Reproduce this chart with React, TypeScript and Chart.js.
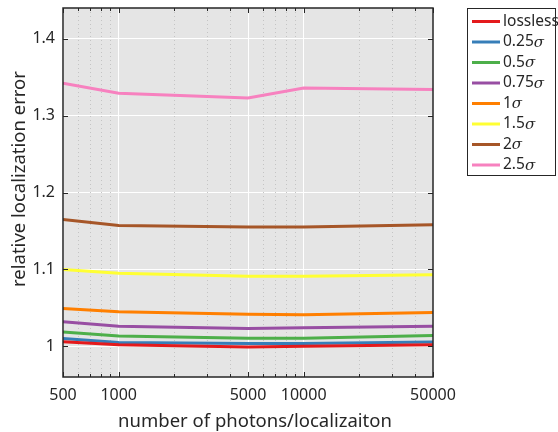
import React, { useEffect, useRef } from 'react';
import { Chart, registerables } from 'chart.js';

Chart.register(...registerables);

// photon counts per localization (x) and tick positions
const PHOTONS = [500, 1000, 5000, 10000, 50000];
const X_TICKS = [500, 1000, 5000, 10000, 50000];
const X_MINOR = [600, 700, 800, 900, 2000, 3000, 4000, 6000, 7000, 8000, 9000, 20000, 30000, 40000];
const Y_TICKS = [1, 1.1, 1.2, 1.3, 1.4];

// relative localization error per compression level
const LOSSLESS = [1.006, 1.002, 0.999, 1.0, 1.002];
const SIGMA_025 = [1.01, 1.005, 1.0035, 1.0035, 1.0056];
const SIGMA_05 = [1.0186, 1.0134, 1.0104, 1.0104, 1.014];
const SIGMA_075 = [1.032, 1.026, 1.023, 1.024, 1.026];
const SIGMA_1 = [1.049, 1.045, 1.0415, 1.041, 1.044];
const SIGMA_15 = [1.1, 1.095, 1.091, 1.091, 1.093];
const SIGMA_2 = [1.165, 1.157, 1.155, 1.155, 1.158];
const SIGMA_25 = [1.342, 1.329, 1.323, 1.336, 1.334];

const SERIES_LABELS = ['lossless', '0.25σ', '0.5σ', '0.75σ', '1σ', '1.5σ', '2σ', '2.5σ'];
const SERIES_VALUES = [LOSSLESS, SIGMA_025, SIGMA_05, SIGMA_075, SIGMA_1, SIGMA_15, SIGMA_2, SIGMA_25];
const SERIES_COLORS = ['#e41a1c', '#377eb8', '#4daf4a', '#984ea3', '#ff7f00', '#ffff33', '#a65628', '#f781bf'];

const X_TITLE = 'number of photons/localizaiton';
const Y_TITLE = 'relative localization error';

const FONT = "'Noto Sans', 'Open Sans', sans-serif";
const INK = '#262626';

const framePlugin = {
  id: 'frame',
  beforeDraw(chart: any) {
    const { ctx, chartArea: a } = chart;
    ctx.save();
    ctx.fillStyle = '#e5e5e5';
    ctx.fillRect(a.left, a.top, a.right - a.left, a.bottom - a.top);
    ctx.restore();
  },
  beforeDatasetsDraw(chart: any) {
    const { ctx, chartArea: a, scales } = chart;
    const x = scales.x;
    ctx.save();
    ctx.strokeStyle = '#c4c4c4';
    ctx.lineWidth = 1;
    ctx.setLineDash([1, 3]);
    X_MINOR.forEach((v) => {
      const px = Math.round(x.getPixelForValue(v)) + 0.5;
      ctx.beginPath();
      ctx.moveTo(px, a.top);
      ctx.lineTo(px, a.bottom);
      ctx.stroke();
    });
    ctx.restore();
  },
  afterDraw(chart: any) {
    const { ctx, chartArea: a, scales } = chart;
    const x = scales.x;
    const y = scales.y;
    ctx.save();
    ctx.strokeStyle = INK;
    ctx.lineWidth = 1;
    const tick = (x1: number, y1: number, x2: number, y2: number) => {
      ctx.beginPath();
      ctx.moveTo(x1, y1);
      ctx.lineTo(x2, y2);
      ctx.stroke();
    };
    X_TICKS.forEach((v) => {
      const px = Math.round(x.getPixelForValue(v)) + 0.5;
      tick(px, a.bottom, px, a.bottom - 5);
      tick(px, a.top, px, a.top + 5);
    });
    X_MINOR.forEach((v) => {
      const px = Math.round(x.getPixelForValue(v)) + 0.5;
      tick(px, a.bottom, px, a.bottom - 3);
      tick(px, a.top, px, a.top + 3);
    });
    Y_TICKS.forEach((v) => {
      const py = Math.round(y.getPixelForValue(v)) + 0.5;
      tick(a.left, py, a.left + 5, py);
      tick(a.right, py, a.right - 5, py);
    });
    ctx.lineWidth = 1.5;
    ctx.strokeRect(a.left, a.top, a.right - a.left, a.bottom - a.top);

    // axis titles
    ctx.fillStyle = INK;
    ctx.font = `18.5px ${FONT}`;
    ctx.textAlign = 'center';
    ctx.textBaseline = 'alphabetic';
    ctx.fillText(X_TITLE, 255, 426.5);
    ctx.save();
    ctx.translate(25, 179);
    ctx.rotate(-Math.PI / 2);
    ctx.fillText(Y_TITLE, 0, 0);
    ctx.restore();

    // legend box
    const bx = 467.5;
    const by = 8.5;
    const bw = 88;
    const rowH = 20.5;
    const bh = 167;
    ctx.fillStyle = '#ffffff';
    ctx.fillRect(bx, by, bw, bh);
    ctx.lineWidth = 1;
    ctx.strokeStyle = INK;
    ctx.strokeRect(bx, by, bw, bh);
    ctx.textBaseline = 'middle';
    ctx.textAlign = 'left';
    SERIES_LABELS.forEach((label, i) => {
      const cy = by + 13 + i * rowH;
      ctx.strokeStyle = SERIES_COLORS[i];
      ctx.lineWidth = 3;
      ctx.beginPath();
      ctx.moveTo(bx + 4.5, cy);
      ctx.lineTo(bx + 32.5, cy);
      ctx.stroke();
      ctx.fillStyle = INK;
      let tx = bx + 35.5;
      const sigma = label.endsWith('σ');
      const head = sigma ? label.slice(0, -1) : label;
      ctx.font = `15.5px ${FONT}`;
      ctx.fillText(head, tx, cy);
      if (sigma) {
        tx += ctx.measureText(head).width;
        ctx.font = `italic 15px 'DejaVu Serif', serif`;
        ctx.fillText('σ', tx, cy + 1);
      }
    });
    ctx.restore();
  },
};

export default function App() {
  const ref = useRef<HTMLCanvasElement | null>(null);

  useEffect(() => {
    if (!ref.current) return;
    const chart = new Chart(ref.current, {
      type: 'line',
      data: {
        datasets: SERIES_VALUES.map((vals, i) => ({
          label: SERIES_LABELS[i],
          data: PHOTONS.map((p, j) => ({ x: p, y: vals[j] })),
          borderColor: SERIES_COLORS[i],
          backgroundColor: SERIES_COLORS[i],
          borderWidth: 3,
          pointRadius: 0,
          tension: 0,
          fill: false,
        })),
      },
      options: {
        responsive: false,
        animation: false,
        events: [],
        layout: { padding: { top: 8, right: 125, left: 0, bottom: 0 } },
        plugins: {
          legend: { display: false },
          tooltip: { enabled: false },
        },
        scales: {
          x: {
            type: 'logarithmic',
            min: 500,
            max: 50000,
            afterBuildTicks: (s: any) => {
              s.ticks = X_TICKS.map((v) => ({ value: v }));
            },
            afterFit: (s: any) => {
              s.height = 55;
              s.paddingLeft = 0;
              s.paddingRight = 0;
            },
            ticks: {
              autoSkip: false,
              maxRotation: 0,
              padding: 9,
              color: INK,
              font: { family: FONT, size: 16 },
              callback: (v: any) => String(v),
            },
            grid: { color: '#ffffff', lineWidth: 1, drawTicks: false },
            border: { display: false },
          },
          y: {
            type: 'linear',
            min: 0.96,
            max: 1.44,
            afterBuildTicks: (s: any) => {
              s.ticks = Y_TICKS.map((v) => ({ value: v }));
            },
            afterFit: (s: any) => {
              s.width = 63;
              s.paddingTop = 0;
              s.paddingBottom = 0;
            },
            ticks: {
              padding: 8,
              color: INK,
              font: { family: FONT, size: 16 },
              callback: (v: any) => String(Math.round(Number(v) * 10) / 10),
            },
            grid: { color: '#ffffff', lineWidth: 1, drawTicks: false },
            border: { display: false },
          },
        },
      },
      plugins: [framePlugin],
    });
    return () => chart.destroy();
  }, []);

  return (
    <div style={{ position: 'fixed', left: 0, top: 0, width: 558, height: 432, background: '#ffffff' }}>
      <canvas ref={ref} width={558} height={432} style={{ display: 'block' }} />
    </div>
  );
}
